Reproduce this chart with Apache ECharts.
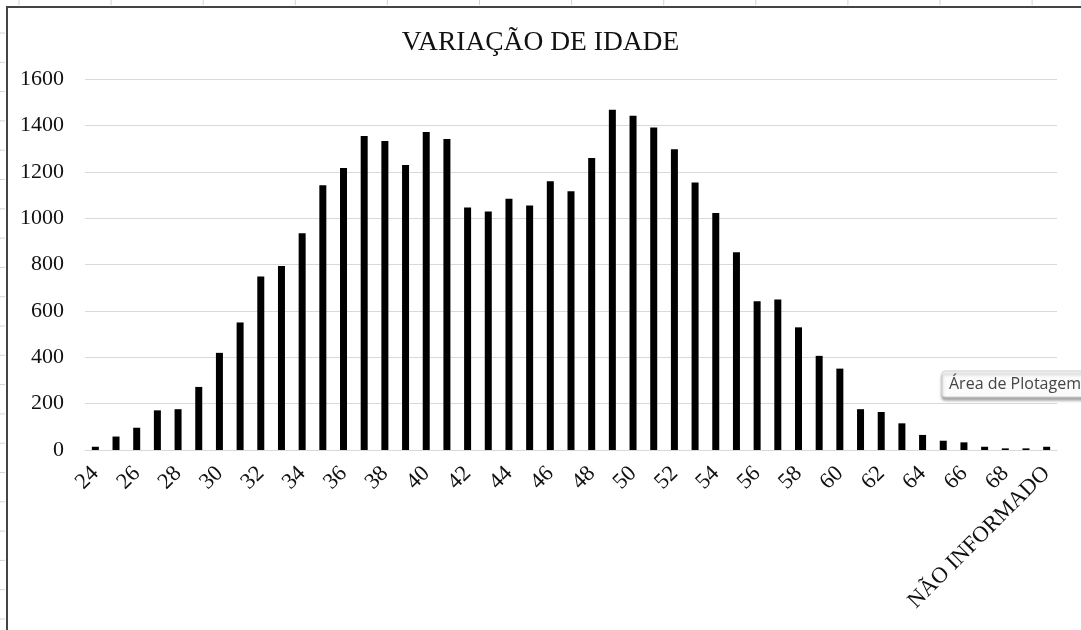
<!DOCTYPE html>
<html>
<head>
<meta charset="utf-8">
<script src="https://cdn.jsdelivr.net/npm/echarts@6/dist/echarts.min.js"></script>
<style>
  html, body { margin: 0; padding: 0; background: #fff; }
  #chart { width: 1081px; height: 630px; }
</style>
</head>
<body>
<div id="chart"></div>
<script>
// faixas de idade (24..69) + não informado
const idades = [
  '24', '25', '26', '27', '28', '29', '30', '31', '32', '33',
  '34', '35', '36', '37', '38', '39', '40', '41', '42', '43',
  '44', '45', '46', '47', '48', '49', '50', '51', '52', '53',
  '54', '55', '56', '57', '58', '59', '60', '61', '62', '63',
  '64', '65', '66', '67', '68', '69', 'NÃO INFORMADO'
];
// quantidade por idade
const quantidades = [
  14, 58, 96, 171, 176, 272, 419, 550, 748, 793,
  935, 1142, 1216, 1354, 1333, 1229, 1371, 1341, 1046, 1029,
  1084, 1054, 1159, 1116, 1259, 1467, 1441, 1391, 1297, 1154,
  1022, 853, 642, 649, 529, 406, 351, 176, 164, 115,
  65, 40, 33, 14, 7, 7, 14
];
const yMax = 1600;
const yPasso = 200;
const titulo = 'VARIAÇÃO DE IDADE';
const dica = 'Área de Plotagem';

const chart = echarts.init(document.getElementById('chart'));

// linhas da planilha (bordas e marcas das células)
const bordas = [];
for (let x = 19; x < 1081; x += 92.1) {
  bordas.push({ type: 'line', shape: { x1: x, y1: 0, x2: x, y2: 5 }, style: { stroke: '#d4d4d4', lineWidth: 1 } });
}
for (let y = 33; y < 630; y += 29.3) {
  bordas.push({ type: 'line', shape: { x1: 0, y1: y, x2: 5, y2: y }, style: { stroke: '#d4d4d4', lineWidth: 1 } });
}
bordas.push({ type: 'line', shape: { x1: 7, y1: 7, x2: 1081, y2: 7 }, style: { stroke: '#444', lineWidth: 2 } });
bordas.push({ type: 'line', shape: { x1: 7, y1: 6, x2: 7, y2: 630 }, style: { stroke: '#444', lineWidth: 2 } });
// dica do excel
bordas.push({
  type: 'rect', shape: { x: 942, y: 371, width: 150, height: 26, r: 3 },
  style: { fill: '#fbfbfb', stroke: '#cfcfcf', lineWidth: 1, shadowBlur: 3, shadowOffsetY: 3, shadowColor: 'rgba(0,0,0,0.35)' },
  z: 100
});
bordas.push({
  type: 'text', x: 949, y: 384,
  style: { text: dica, font: '16px "Open Sans"', fill: '#454545', verticalAlign: 'middle' },
  z: 101
});

chart.setOption({
  backgroundColor: '#fff',
  animation: false,
  title: {
    text: titulo,
    left: 'center',
    top: 24,
    textStyle: { fontFamily: 'Liberation Serif', fontSize: 27.5, fontWeight: 'normal', color: '#111' }
  },
  grid: { left: 85, right: 24, top: 79, bottom: 180, containLabel: false },
  xAxis: {
    type: 'category',
    data: idades,
    axisLine: { lineStyle: { color: '#d9d9d9', width: 1 } },
    axisTick: { show: false },
    axisLabel: {
      interval: 1,
      rotate: 45,
      margin: 20,
      fontFamily: 'Liberation Serif',
      fontSize: 22.5,
      color: '#111'
    }
  },
  yAxis: {
    type: 'value',
    min: 0,
    max: yMax,
    interval: yPasso,
    axisLine: { show: false },
    axisTick: { show: false },
    splitLine: { lineStyle: { color: '#d9d9d9', width: 1 } },
    axisLabel: {
      margin: 21,
      fontFamily: 'Liberation Serif',
      fontSize: 22,
      color: '#111',
      formatter: (v) => String(v)
    }
  },
  series: [{
    type: 'bar',
    data: quantidades,
    barWidth: 7,
    itemStyle: { color: '#000' }
  }],
  graphic: bordas
});
</script>
</body>
</html>
